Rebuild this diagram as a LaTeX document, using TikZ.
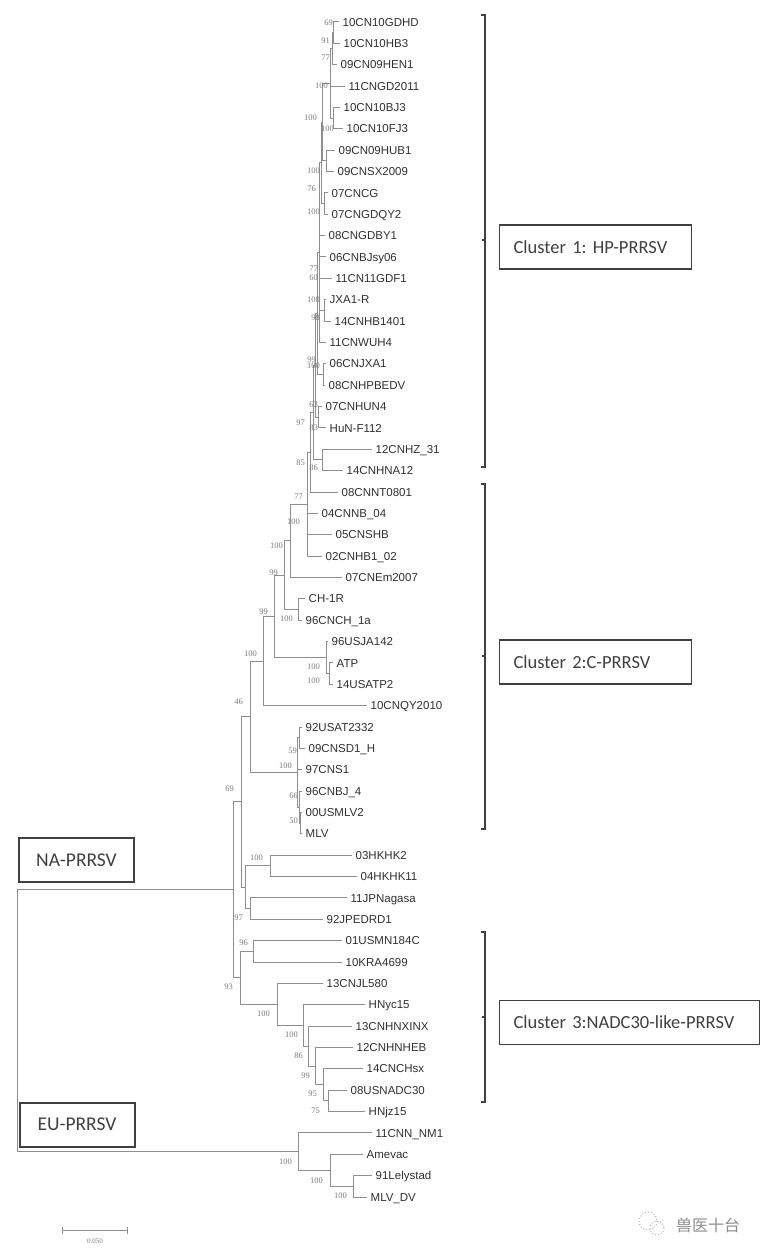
\documentclass[tikz,border=0pt]{standalone}
\usepackage{fontspec}
\setmainfont{Liberation Sans}
\newfontfamily\boxfont{Carlito}
\newfontfamily\bootfont{Liberation Serif}
\newfontfamily\cjkfont{Noto Sans CJK SC}
\usetikzlibrary{arrows.meta}
\frenchspacing
\definecolor{branchgray}{HTML}{8E8E8E}
\definecolor{labelgray}{HTML}{303030}
\definecolor{bootgray}{HTML}{7A7A7A}
\definecolor{boxgray}{HTML}{404040}
\tikzstyle{branch} = [draw=branchgray, line width=1pt]
\tikzstyle{leaf} = [anchor=west, inner xsep=3.5pt, inner ysep=0pt, text height=8.3pt,
  text depth=0pt, text=labelgray, font=\fontsize{11.5}{13}\selectfont]
\tikzstyle{boot} = [anchor=east, inner sep=0pt, text=bootgray, font=\bootfont\fontsize{8.5}{9}\selectfont]
\tikzstyle{clusterbox} = [draw=boxgray, line width=1.2pt, anchor=west, minimum height=44pt,
  inner xsep=14pt, align=left, text=boxgray, font=\boxfont\fontsize{18.5}{21}\selectfont\frenchspacing]
\tikzstyle{groupbox} = [draw=boxgray, line width=2pt, minimum width=115pt, minimum height=44pt,
  text=boxgray, font=\boxfont\fontsize{19.5}{22}\selectfont]
\tikzstyle{bracket} = [draw=boxgray, line width=1.2pt]

\begin{document}
\begin{tikzpicture}[x=1pt, y=-1pt]
    \useasboundingbox (0,0) rectangle (774,1257);

    % leaves, top to bottom
    \foreach \x/\t [count=\i] in {339/10CN10GDHD, 340/10CN10HB3, 337/09CN09HEN1, 345/11CNGD2011,
        340/10CN10BJ3, 343/10CN10FJ3, 335/09CN09HUB1, 334/09CNSX2009, 328/07CNCG, 328/07CNGDQY2,
        325/08CNGDBY1, 326/06CNBJsy06, 332/11CN11GDF1, 326/JXA1-R, 331/14CNHB1401, 326/11CNWUH4,
        326/06CNJXA1, 325/08CNHPBEDV, 322/07CNHUN4, 326/HuN-F112, 372/12CNHZ\_31, 343/14CNHNA12,
        338/08CNNT0801, 318/04CNNB\_04, 332/05CNSHB, 322/02CNHB1\_02, 342/07CNEm2007, 305/CH-1R,
        302/96CNCH\_1a, 328/96USJA142, 333/ATP, 333/14USATP2, 367/10CNQY2010, 302/92USAT2332,
        305/09CNSD1\_H, 302/97CNS1, 302/96CNBJ\_4, 302/00USMLV2, 302/MLV, 352/03HKHK2,
        357/04HKHK11, 347/11JPNagasa, 323/92JPEDRD1, 342/01USMN184C, 342/10KRA4699,
        323/13CNJL580, 365/HNyc15, 352/13CNHNXINX, 353/12CNHNHEB, 363/14CNCHsx,
        347/08USNADC30, 365/HNjz15, 372/11CNN\_NM1, 363/Amevac, 372/91Lelystad, 367/MLV\_DV}
      \node[leaf] (l\i) at (\x, {22+(\i-1)*21.3636}) {\t};

    % inner nodes
    \coordinate (h1) at (333,32.68);
    \coordinate (h2) at (332,48.70);
    \coordinate (h4) at (333,118.14);
    \coordinate (h3) at (330,83.42);
    \coordinate (h6) at (326,160.87);
    \coordinate (h5) at (322,122.14);
    \coordinate (h8) at (324,203.59);
    \coordinate (h7) at (321,162.87);
    \coordinate (h11) at (324,310.41);
    \coordinate (h9) at (319,252.66);
    \coordinate (h13) at (323,374.5);
    \coordinate (h12) at (317,313.58);
    \coordinate (h15) at (318,417.23);
    \coordinate (h14) at (315,365.41);
    \coordinate (h17) at (322,459.96);
    \coordinate (h16) at (313,412.68);
    \coordinate (g77) at (310,452.34);
    \coordinate (g100) at (307,504.22);
    \coordinate (n290) at (290,540.84);
    \coordinate (ch) at (298,609.5);
    \coordinate (n284) at (284,575.17);
    \coordinate (atp) at (329,673.59);
    \coordinate (us) at (326,657.57);
    \coordinate (n274) at (274,616.37);
    \coordinate (n263) at (263,661.0);
    \coordinate (m59) at (299,737.68);
    \coordinate (m50) at (300,823.14);
    \coordinate (m66) at (299,807.11);
    \coordinate (mlv) at (297,772.4);
    \coordinate (n250) at (250,716.7);
    \coordinate (hk) at (270,865.86);
    \coordinate (jp) at (250,908.59);
    \coordinate (hkjp) at (245,887.23);
    \coordinate (n241) at (241,801.96);
    \coordinate (uskr) at (253,951.32);
    \coordinate (n328) at (328,1100.86);
    \coordinate (n323) at (323,1084.84);
    \coordinate (n315) at (315,1066.15);
    \coordinate (n308) at (308,1046.12);
    \coordinate (n303) at (303,1025.42);
    \coordinate (nadc) at (277,1004.39);
    \coordinate (n240) at (240,977.86);
    \coordinate (rna) at (233,889.91);
    \coordinate (n353) at (353,1186.32);
    \coordinate (n330) at (330,1170.3);
    \coordinate (eu) at (298,1151.6);
    \coordinate (root) at (17,1020.76);

    % branches
    \foreach \p/\c in {h1/l1, h1/l2, h2/h1, h2/l3, h4/l5, h4/l6, h3/h2, h3/l4, h3/h4, h6/l7, h6/l8,
        h5/h3, h5/h6, h8/l9, h8/l10, h7/h5, h7/h8, h11/l14, h11/l15, h9/h7, h9/l11, h9/l12,
        h9/l13, h9/h11, h9/l16, h13/l17, h13/l18, h12/h9, h12/h13, h15/l19, h15/l20, h14/h12,
        h14/h15, h17/l21, h17/l22, h16/h14, h16/h17, g77/h16, g77/l23, g100/g77, g100/l24,
        g100/l25, g100/l26, n290/g100, n290/l27, ch/l28, ch/l29, n284/n290, n284/ch, atp/l31,
        atp/l32, us/l30, us/atp, n274/n284, n274/us, n263/n274, n263/l33, m59/l34, m59/l35,
        m50/l38, m50/l39, m66/l37, m66/m50, mlv/m59, mlv/l36, mlv/m66, n250/n263, n250/mlv,
        hk/l40, hk/l41, jp/l42, jp/l43, hkjp/hk, hkjp/jp, n241/n250, n241/hkjp, uskr/l44,
        uskr/l45, n328/l51, n328/l52, n323/l50, n323/n328, n315/l49, n315/n323, n308/l48,
        n308/n315, n303/l47, n303/n308, nadc/l46, nadc/n303, n240/uskr, n240/nadc, rna/n241,
        rna/n240, n353/l55, n353/l56, n330/l54, n330/n353, eu/l53, eu/n330, root/rna, root/eu}
      \draw[branch] (\p) |- (\c);

    % bootstrap values
    \foreach \x/\y/\v [count=\i] in {333/23/69, 330/41/91, 330/58/77, 328/86/100, 317/118/100,
        334/129/100, 320/171/100, 316/189/76, 320/212/100, 318/269/77, 318/278/60, 320/300/100,
        320/318/98, 316/360/99, 320/366/100, 318/405/63, 305/423/97, 318/428/83, 305/463/85,
        318/468/86, 303/497/77, 300/522/100, 283/546/100, 278/573/99, 268/612/99, 293/619/100,
        257/654/100, 320/667/100, 320/681/100, 243/702/46, 297/751/59, 292/766/100, 234/789/69,
        298/796/66, 298/821/50, 263/858/100, 243/918/97, 248/943/96, 233/987/93, 270/1014/100,
        298/1035/100, 303/1056/86, 310/1076/99, 317/1094/95, 320/1111/75, 292/1162/100,
        323/1181/100, 347/1196/100}
      \node[boot] (b\i) at (\x,\y) {\v};

    % scale bar
    \coordinate (sbl) at (62,1230);
    \coordinate (sbr) at (128,1230);
    \draw[branch, {Bar[width=7pt]}-{Bar[width=7pt]}] (sbl) -- (sbr);
    \node[boot, anchor=center, font=\bootfont\fontsize{7}{8}\selectfont] (sblabel) at (95,1241) {0.050};

    % groups
    \node[groupbox] (na) at (76.5,860) {NA-PRRSV};
    \node[groupbox] (euname) at (77,1124.5) {EU-PRRSV};

    % clusters
    \draw[bracket] (481,15) -- (485,15) -- (485,467) -- (481,467);
    \draw[bracket] (485,240) -- (482,240);
    \node[clusterbox, text width=164pt] (c1) at (499,247) {Cluster 1: HP-PRRSV};
    \draw[bracket] (481,484) -- (485,484) -- (485,829) -- (481,829);
    \draw[bracket] (485,656) -- (482,656);
    \node[clusterbox, text width=164pt] (c2) at (499,662) {Cluster 2:C-PRRSV};
    \draw[bracket] (481,932) -- (485,932) -- (485,1102) -- (481,1102);
    \draw[bracket] (485,1017) -- (482,1017);
    \node[clusterbox, text width=232pt] (c3) at (499,1022.5) {Cluster 3:NADC30-like-PRRSV};

    % watermark
    \draw[gray!60, line width=1pt, dotted] (648,1221) circle (9);
    \draw[gray!60, line width=1pt, dotted] (657,1228) circle (7);
    \node[anchor=west, inner sep=0pt, text=gray!90, font=\cjkfont\fontsize{16}{18}\selectfont] (mark) at (676,1225) {兽医十台};
\end{tikzpicture}
\end{document}
